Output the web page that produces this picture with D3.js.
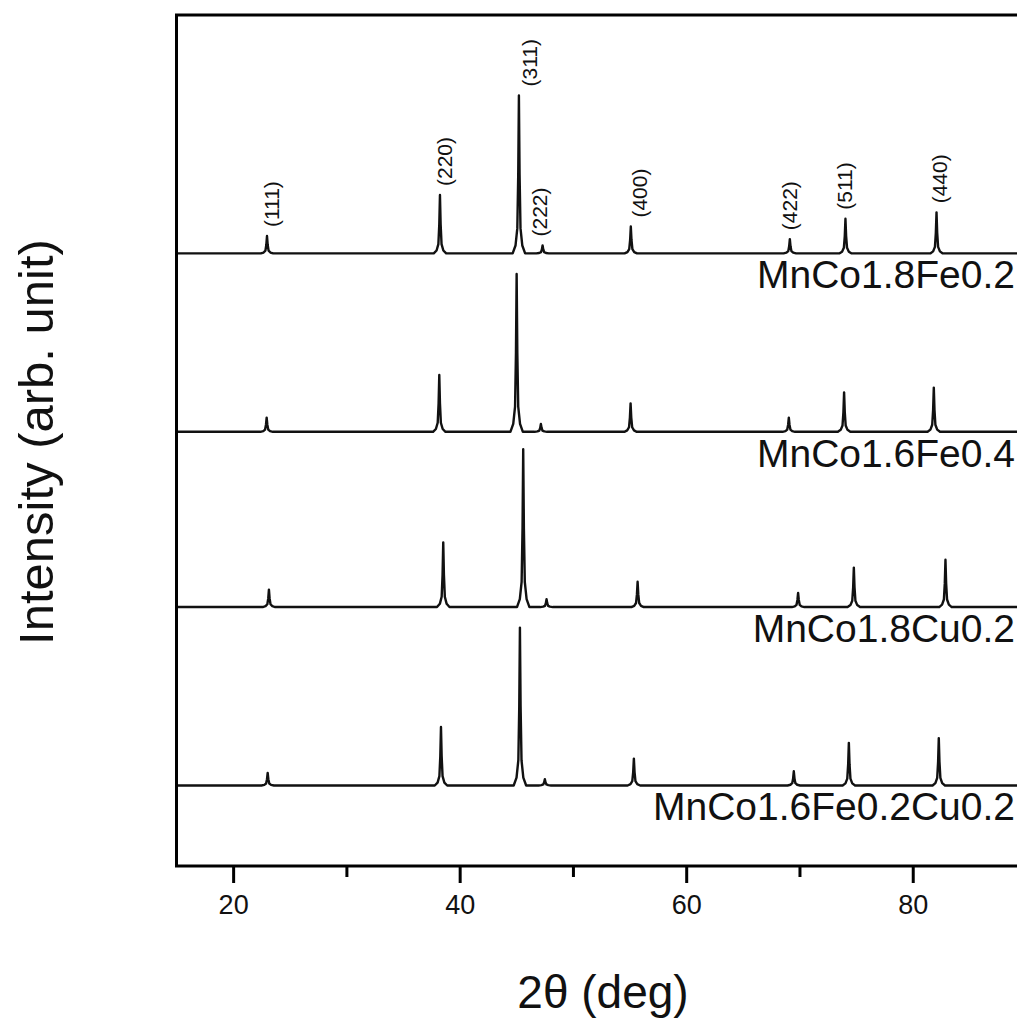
<!DOCTYPE html>
<html>
<head>
<meta charset="utf-8">
<script src="https://cdn.jsdelivr.net/npm/d3@7/dist/d3.min.js"></script>
<style>
  body { margin: 0; background: #fff; }
  svg { display: block; font-family: "Liberation Sans", Arial, sans-serif; }
</style>
</head>
<body>
<div id="chart"></div>
<script>
// Data

// sample names, top trace first
const samples = ["MnCo1.8Fe0.2", "MnCo1.6Fe0.4", "MnCo1.8Cu0.2", "MnCo1.6Fe0.2Cu0.2"];

// vertical offset of each trace (same units as intensity, (311) = 100)
const offsets = [388, 275, 164, 51];

// Miller indices and where their labels sit (2theta, deg)
const hkl = ["(111)", "(220)", "(311)", "(222)", "(400)", "(422)", "(511)", "(440)"];
const hklPos = [23.4, 38.7, 46.2, 47.1, 55.9, 69.15, 74.0, 82.4];

// peak positions, 2theta (deg), one row per sample
const peakPos = [
  [22.99, 38.26, 45.23, 47.32, 55.11, 69.15, 74.06, 82.10],
  [22.96, 38.20, 45.03, 47.17, 55.09, 69.06, 73.94, 81.86],
  [23.16, 38.55, 45.61, 47.67, 55.71, 69.88, 74.80, 82.89],
  [23.05, 38.35, 45.32, 47.52, 55.38, 69.50, 74.36, 82.30]
];

// relative peak heights, (311) = 100
const peakHeight = [
  [11, 37, 100, 5, 17, 9, 22, 26],
  [9, 36, 100, 5, 18, 9, 25, 28],
  [11, 41, 100, 5, 16, 9, 25, 30],
  [8, 37, 100, 4, 17, 9, 27, 30]
];

// shape of one peak: [offset in deg, fraction of height]
const profile = [[-0.55, 0], [-0.3, 0.05], [-0.14, 0.16], [-0.06, 0.5], [0, 1],
                 [0.06, 0.5], [0.14, 0.16], [0.3, 0.05], [0.55, 0]];

const majorTicks = [20, 40, 60, 80];
const minorTicks = [30, 50, 70, 90];

// Canvas
const width = 1017, height = 1035;
const svg = d3.select("#chart").append("svg")
  .attr("width", width)
  .attr("height", height);

const plotTop = 15, plotBottom = 866;

const x = d3.scaleLinear().domain([15, 90]).range([176.5, 1026]);
const y = d3.scaleLinear().domain([0, 539]).range([plotBottom, plotTop]);

// build points of each trace from its peak list
const traces = samples.map(function (name, i) {
  let pts = [[15, offsets[i]]];
  peakPos[i].forEach(function (p, j) {
    profile.forEach(function (s) {
      pts.push([p + s[0], offsets[i] + s[1] * peakHeight[i][j]]);
    });
  });
  pts.push([90, offsets[i]]);
  return pts;
});

const line = d3.line()
  .x(function (d) { return x(d[0]); })
  .y(function (d) { return y(d[1]); });

svg.append("defs").append("clipPath").attr("id", "plotClip")
  .append("rect")
  .attr("x", x(15)).attr("y", plotTop)
  .attr("width", x(90) - x(15)).attr("height", plotBottom - plotTop);

svg.append("g")
  .attr("clip-path", "url(#plotClip)")
  .selectAll("path")
  .data(traces)
  .join("path")
  .attr("d", line)
  .attr("fill", "none")
  .attr("stroke", "#111")
  .attr("stroke-width", 2.4)
  .attr("stroke-linejoin", "round");

// sample names under each trace
svg.selectAll("text.sample")
  .data(samples)
  .join("text")
  .attr("class", "sample")
  .attr("x", 1015)
  .attr("y", function (d, i) { return y(offsets[i]) + 35; })
  .attr("text-anchor", "end")
  .style("font-size", "39px")
  .attr("fill", "#111")
  .text(function (d) { return d; });

// Miller index labels above the top trace
svg.selectAll("text.hkl")
  .data(hkl)
  .join("text")
  .attr("class", "hkl")
  .attr("transform", function (d, j) {
    const top = y(offsets[0] + peakHeight[0][j]);
    return "translate(" + (x(hklPos[j]) + 7) + "," + (top - 9) + ") rotate(-90)";
  })
  .style("font-size", "21px")
  .attr("fill", "#111")
  .text(function (d) { return d; });

// frame
svg.append("rect")
  .attr("x", x(15)).attr("y", plotTop)
  .attr("width", x(90) - x(15)).attr("height", plotBottom - plotTop)
  .attr("fill", "none")
  .attr("stroke", "#000")
  .attr("stroke-width", 3);

// x axis: labelled major ticks and short minor ticks
const xAxis = svg.append("g")
  .attr("transform", "translate(0," + plotBottom + ")")
  .call(d3.axisBottom(x).tickValues(majorTicks).tickSize(17).tickPadding(12).tickSizeOuter(0));
xAxis.select(".domain").remove();
xAxis.selectAll(".tick line").attr("stroke", "#000").attr("stroke-width", 3);
xAxis.selectAll(".tick text")
  .style("font-size", "27px")
  .style("font-family", "'Liberation Sans', Arial, sans-serif")
  .attr("fill", "#111");

const xMinor = svg.append("g")
  .attr("transform", "translate(0," + plotBottom + ")")
  .call(d3.axisBottom(x).tickValues(minorTicks).tickSize(11).tickFormat("").tickSizeOuter(0));
xMinor.select(".domain").remove();
xMinor.selectAll(".tick line").attr("stroke", "#000").attr("stroke-width", 3);

// axis titles
svg.append("text")
  .attr("x", 603)
  .attr("y", 1008)
  .attr("text-anchor", "middle")
  .style("font-size", "46px")
  .attr("fill", "#111")
  .text("2θ (deg)");

svg.append("text")
  .attr("transform", "translate(53,442) rotate(-90)")
  .attr("text-anchor", "middle")
  .style("font-size", "49px")
  .attr("fill", "#111")
  .text("Intensity (arb. unit)");
</script>
</body>
</html>
